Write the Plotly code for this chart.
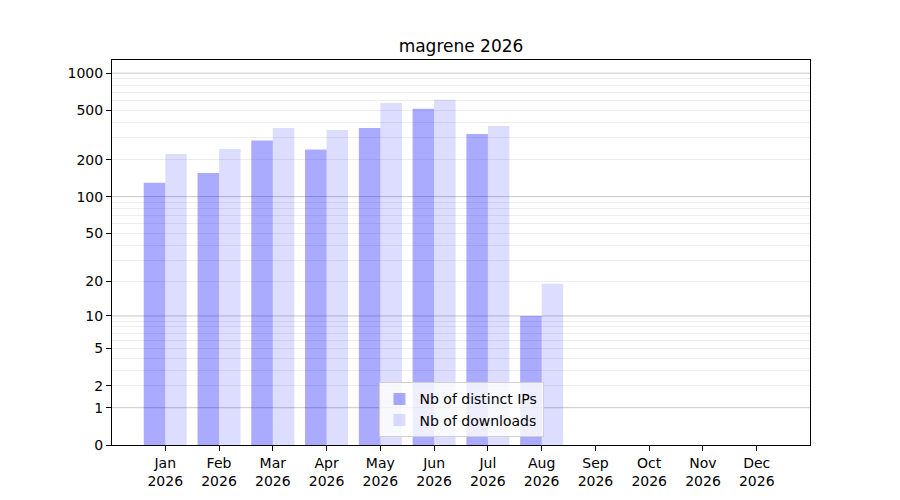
import numpy as np
import plotly.graph_objects as go

# monthly stats for 2026
months = ["Jan", "Feb", "Mar", "Apr", "May", "Jun", "Jul", "Aug", "Sep", "Oct", "Nov", "Dec"]
year = "2026"
distinct_ips = [130, 156, 285, 241, 361, 515, 323, 10, 0, 0, 0, 0]
downloads = [222, 244, 361, 347, 575, 609, 375, 19, 0, 0, 0, 0]

# y axis uses log10(1 + x)
label_ticks = [0, 1, 2, 5, 10, 20, 50, 100, 200, 500, 1000]
major_grid = [1, 10, 100, 1000]
minor_grid = [m * d for d in (1, 10, 100) for m in range(2, 10)]


def tr(v):
    return np.log10(1 + np.asarray(v, dtype=float))


x_labels = [f"{m}<br>{year}" for m in months]

fig = go.Figure()
fig.add_trace(go.Bar(
    x=x_labels, y=tr(distinct_ips), name="Nb of distinct IPs",
    marker=dict(color="rgba(0,0,255,0.333)", line=dict(width=0)),
))
fig.add_trace(go.Bar(
    x=x_labels, y=tr(downloads), name="Nb of downloads",
    marker=dict(color="rgba(0,0,255,0.133)", line=dict(width=0)),
))

# darker grid lines at decades
for v in major_grid:
    fig.add_shape(
        type="line", xref="paper", x0=0, x1=1, yref="y", y0=tr(v), y1=tr(v),
        line=dict(color="rgba(0,0,0,0.22)", width=1), layer="below",
    )

# the page adds an 8px body margin, so shift everything up/left
fig.update_layout(
    width=900, height=500,
    margin=dict(l=104, r=98, t=52, b=63),
    paper_bgcolor="white", plot_bgcolor="white",
    font=dict(family="DejaVu Sans", size=14, color="black"),
    title=dict(text="magrene 2026", x=(112 + 810) / 2 / 900 - 8 / 900, xanchor="center",
               y=1 - 38 / 500, yanchor="middle", font=dict(size=17)),
    barmode="group", bargap=0.2, bargroupgap=0,
    showlegend=True,
    legend=dict(
        x=0.5, xanchor="center", y=0.02, yanchor="bottom",
        bgcolor="rgba(255,255,255,0.8)", bordercolor="#d0d0d0", borderwidth=1,
        font=dict(size=14),
    ),
    xaxis=dict(
        range=[-0.99, 11.99], showgrid=False, showline=True, mirror=True,
        linecolor="black", linewidth=1, ticks="outside", ticklen=5,
        tickcolor="black", zeroline=False,
    ),
    yaxis=dict(
        range=[0, 3.107], tickmode="array", tickvals=tr(label_ticks),
        ticktext=[str(t) for t in label_ticks], showgrid=False,
        showline=True, mirror=True, linecolor="black", linewidth=1,
        ticks="outside", ticklen=5, tickcolor="black", zeroline=False,
        minor=dict(tickmode="array", tickvals=tr(minor_grid), showgrid=True,
                   gridcolor="rgba(0,0,0,0.07)", gridwidth=1, ticks=""),
    ),
)

fig.write_html("out.html")
